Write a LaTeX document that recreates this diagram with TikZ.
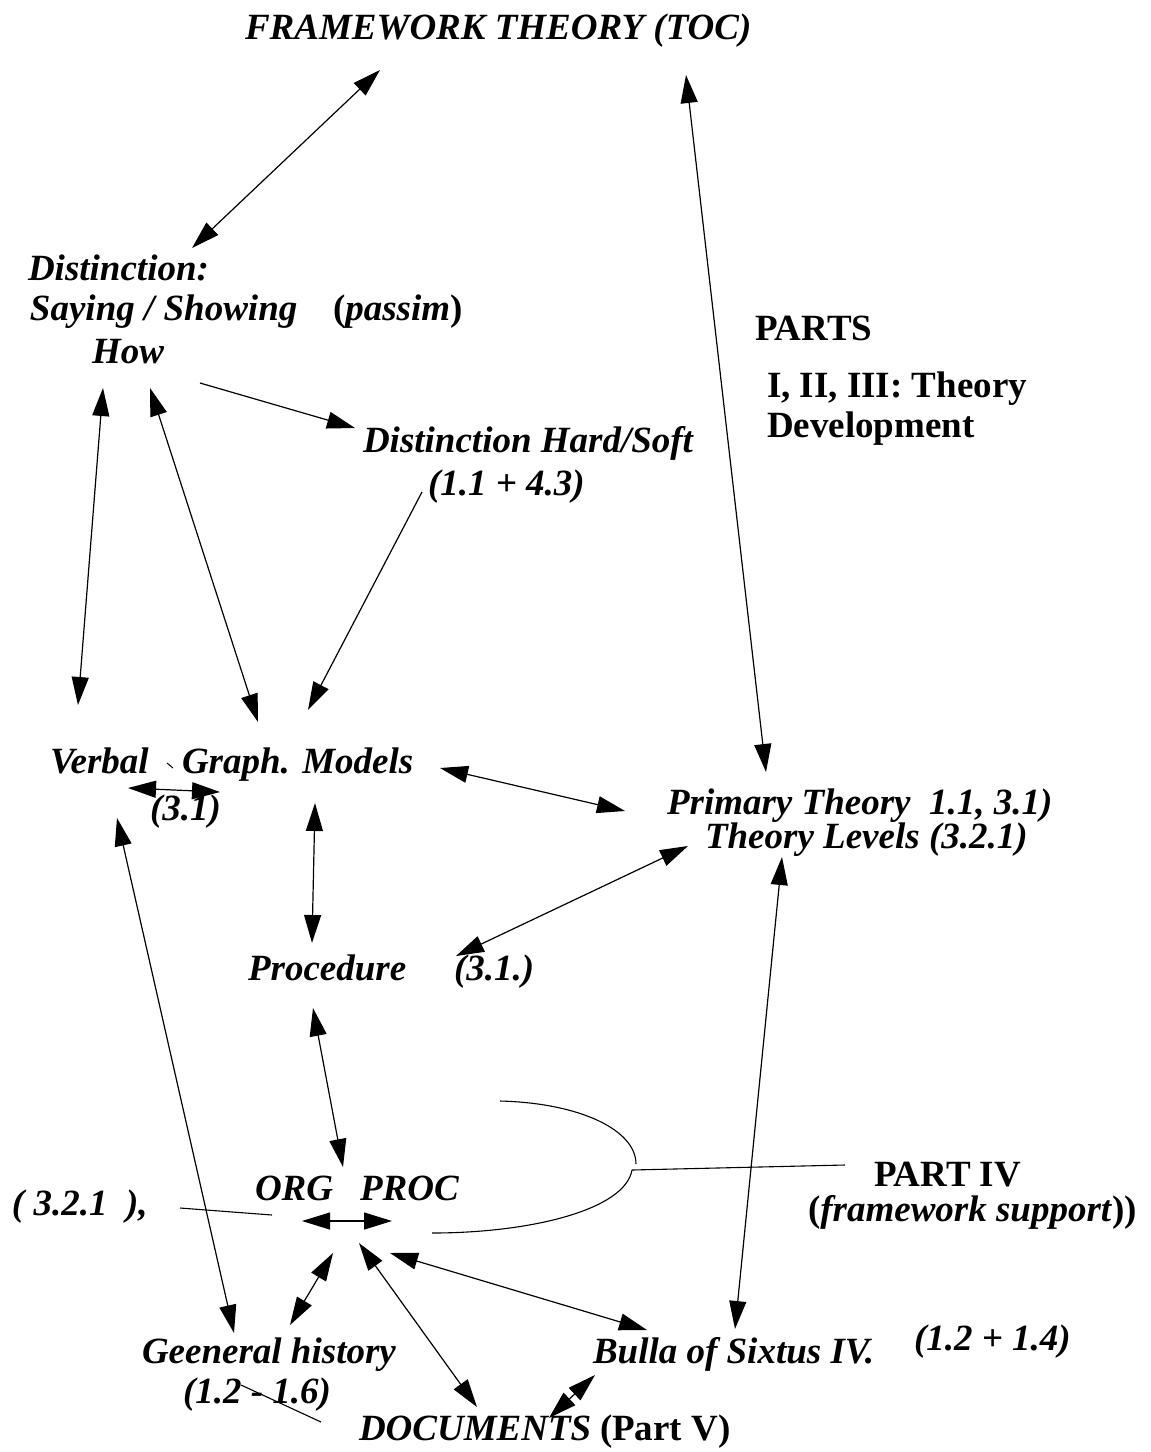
\documentclass[tikz,border=0pt]{standalone}
\usepackage{fontspec}
\setmainfont{Liberation Serif}
\usetikzlibrary{arrows.meta}
\begin{document}
\begin{tikzpicture}[x=1pt,y=-1pt,
  lbl/.style={anchor=base west,inner sep=0pt,outer sep=0pt,
    font=\fontsize{37}{41}\selectfont\bfseries\itshape},
  ulbl/.style={lbl,font=\fontsize{37}{41}\selectfont\bfseries},
  conn/.style={line width=1.2pt,draw=black},
  tip/.style={-{Triangle[length=28pt,width=17pt]}},
  both/.style={{Triangle[length=28pt,width=17pt]}-{Triangle[length=28pt,width=17pt]}},
  thin line/.style={line width=1.1pt}]
\useasboundingbox (0,0) rectangle (1151,1452);

% ---- labels ----
\node[lbl] (toc) at (245,39) {FRAMEWORK THEORY (TOC)};
\node[lbl] (dist1) at (28,280) {Distinction:};
\node[lbl] (dist2) at (30,320) {Saying / Showing};
\node[lbl] (dist3) at (92,363) {How};
\node[ulbl] (passim) at (333,320) {(\textit{passim})};
\node[ulbl] (parts1) at (755,340) {PARTS};
\node[ulbl] (parts2) at (767,397) {I, II, III: Theory};
\node[ulbl] (parts3) at (767,437) {Development};
\node[lbl] (hs1) at (363,452) {Distinction Hard/Soft};
\node[lbl] (hs2) at (428,495) {(1.1 + 4.3)};
\node[lbl] (verbal) at (50,773) {Verbal};
\node[lbl] (graph) at (182,773) {Graph. Models};
\node[lbl] (v31) at (150,820) {(3.1)};
\node[lbl] (prim1) at (667,814) {Primary Theory\ \ 1.1, 3.1)};
\node[lbl] (prim2) at (705,848) {Theory Levels (3.2.1)};
\node[lbl] (proc) at (248,980) {Procedure};
\node[lbl] (proc31) at (454,980) {(3.1.)};
\node[lbl] (ref321) at (12,1215) {( 3.2.1\ \ ),};
\node[lbl] (org) at (255,1200) {ORG};
\node[lbl] (procn) at (360,1200) {PROC};
\node[ulbl] (part4) at (874,1186) {PART IV};
\node[ulbl] (fws) at (808,1221) {(\textit{framework support}))};
\node[lbl] (gen1) at (142,1363) {Geeneral history};
\node[lbl] (gen2) at (183,1403) {(1.2 - 1.6)};
\node[lbl] (docs) at (359,1440) {DOCUMENTS};
\node[ulbl] (partv) at (600,1440) {(Part V)};
\node[lbl] (bulla) at (593,1363) {Bulla of Sixtus IV.};
\node[lbl] (b1214) at (914,1350) {(1.2 + 1.4)};

% ---- connector end points ----
\coordinate (tocL) at (380,70);   \coordinate (distT) at (192,248);
\coordinate (tocR) at (686,75);   \coordinate (primT) at (766,772);
\coordinate (howR) at (200,383);  \coordinate (hsL) at (355,428);
\coordinate (howA) at (103,388);  \coordinate (verbT) at (78,705);
\coordinate (howB) at (150,388);  \coordinate (graphTL) at (258,722);
\coordinate (hsB) at (422,492);   \coordinate (graphTR) at (308,710);
\coordinate (graphR) at (440,768);\coordinate (primL) at (625,811);
\coordinate (levL) at (688,846);  \coordinate (procR) at (456,956);
\coordinate (graphB) at (315,803);\coordinate (procT) at (312,943);
\coordinate (procB) at (313,1008);\coordinate (orgT) at (343,1167);
\coordinate (verbB) at (117,818); \coordinate (genT) at (234,1333);
\coordinate (orgL) at (302,1221); \coordinate (orgR) at (392,1221);
\coordinate (v31L) at (128,788);  \coordinate (v31R) at (220,792);
\coordinate (genTR) at (290,1325);\coordinate (orgBL) at (333,1253);
\coordinate (docsT) at (477,1407);\coordinate (orgB) at (359,1243);
\coordinate (bullaL) at (647,1330);\coordinate (orgBR) at (390,1253);
\coordinate (docsR) at (549,1418);\coordinate (bullaBL) at (595,1375);
\coordinate (levB) at (782,857);  \coordinate (bullaT) at (735,1329);
\coordinate (refR) at (180,1208); \coordinate (orgW) at (272,1215);
\coordinate (strA) at (241,1385); \coordinate (strB) at (321,1422);
\coordinate (brTop) at (500,1101);\coordinate (brMid) at (636,1164);
\coordinate (brJoin) at (632,1170);\coordinate (brBot) at (432,1233);
\coordinate (p4L) at (845,1165);
\coordinate (tickA) at (167,763); \coordinate (tickB) at (173,768);

% ---- connectors ----
\draw[conn,both] (tocL) -- (distT);
\draw[conn,both] (tocR) -- (primT);
\draw[conn,tip] (howR) -- (hsL);
\draw[conn,both] (howA) -- (verbT);
\draw[conn,both] (howB) -- (graphTL);
\draw[conn,tip] (hsB) -- (graphTR);
\draw[conn,both] (graphR) -- (primL);
\draw[conn,both] (levL) -- (procR);
\draw[conn,both] (graphB) -- (procT);
\draw[conn,both] (procB) -- (orgT);
\draw[conn,both] (verbB) -- (genT);
\draw[conn,both] (orgL) -- (orgR);
\draw[conn,both] (v31L) -- (v31R);
\draw[conn,both] (genTR) -- (orgBL);
\draw[conn,both] (docsT) -- (orgB);
\draw[conn,both] (bullaL) -- (orgBR);
\draw[conn,both] (docsR) -- (bullaBL);
\draw[conn,both] (levB) -- (bullaT);

% ---- plain strokes ----
\draw[thin line] (refR) -- (orgW);
\draw[thin line] (strA) -- (strB);
\draw[thin line] (brTop) .. controls (580,1103) and (636,1130) .. (brMid);
\draw[thin line] (brJoin) .. controls (625,1210) and (530,1233) .. (brBot);
\draw[thin line] (brJoin) -- (p4L);
\draw[line width=1pt] (tickA) -- (tickB);
\end{tikzpicture}
\end{document}
